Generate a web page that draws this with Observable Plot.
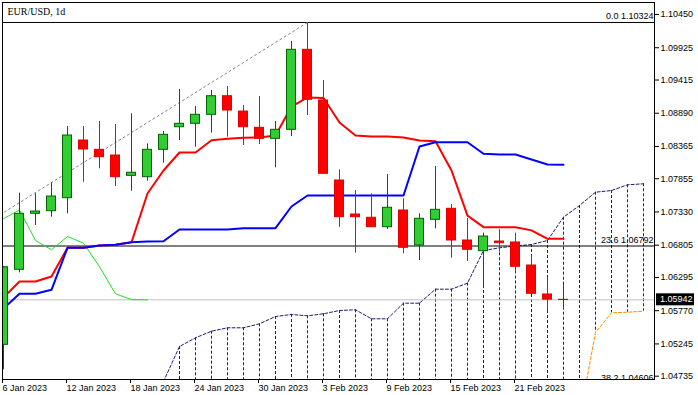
<!DOCTYPE html>
<html>
<head>
<meta charset="utf-8">
<script src="https://cdn.jsdelivr.net/npm/d3@7"></script>
<script src="https://cdn.jsdelivr.net/npm/@observablehq/plot@0.6"></script>
<style>
html, body { margin: 0; padding: 0; background: #fff; }
#chart svg { display: block; }
</style>
</head>
<body>
<div id="chart"></div>
<script>
// ---- data (daily EUR/USD bars, index 0 = 6 Jan 2023) ----
const title = "EUR/USD, 1d";
const open  = [1.05231,1.06416,1.07301,1.07342,1.07548,1.08459,1.08312,1.08222,1.07901,1.07879,1.08312,1.08669,1.08723,1.08865,1.09159,1.08917,1.08660,1.08486,1.08628,1.09892,1.09091,1.07827,1.07290,1.07238,1.07089,1.07353,1.06800,1.07206,1.07380,1.06879,1.06710,1.06863,1.06848,1.06484,1.06026,1.05940];
const high  = [1.06470,1.07627,1.07617,1.07791,1.08680,1.08680,1.08759,1.08712,1.08881,1.08407,1.08601,1.09265,1.08996,1.09249,1.09312,1.09012,1.09154,1.08759,1.10023,1.10324,1.09407,1.07996,1.07669,1.07617,1.07922,1.07538,1.07301,1.08048,1.07448,1.07227,1.06995,1.07048,1.06995,1.06642,1.06290,1.06184];
const low   = [1.04836,1.06369,1.07116,1.07247,1.07301,1.07800,1.08012,1.07732,1.07658,1.07816,1.08100,1.08459,1.08353,1.08575,1.08511,1.08380,1.08396,1.08028,1.08522,1.08854,1.07925,1.07089,1.06679,1.07085,1.07053,1.06669,1.06563,1.07064,1.06600,1.06547,1.06132,1.06694,1.06363,1.06030,1.05762,1.05784];
const close = [1.06457,1.07301,1.07337,1.07574,1.08538,1.08317,1.08195,1.07879,1.07949,1.08312,1.08549,1.08723,1.08865,1.09159,1.08933,1.08669,1.08486,1.08628,1.09892,1.09102,1.07933,1.07247,1.07247,1.07089,1.07396,1.06764,1.07222,1.07364,1.06879,1.06732,1.06942,1.06837,1.06464,1.06037,1.05945,1.05942];

// Ichimoku lines
const tenkan = [1.05979,1.06231,1.06231,1.06310,1.06764,1.06764,1.06800,1.06811,1.06852,1.07622,1.07985,1.08270,1.08270,1.08462,1.08485,1.08502,1.08507,1.08538,1.08996,1.09139,1.09130,1.08744,1.08538,1.08522,1.08522,1.08507,1.08459,1.08447,1.07985,1.07272,1.07090,1.07090,1.07090,1.07039,1.06905,1.06905];
const kijun  = [1.05805,1.06037,1.06037,1.06100,1.06764,1.06764,1.06800,1.06811,1.06852,1.06863,1.06868,1.07053,1.07053,1.07053,1.07053,1.07074,1.07074,1.07074,1.07416,1.07590,1.07590,1.07590,1.07590,1.07590,1.07590,1.07590,1.08364,1.08432,1.08432,1.08432,1.08249,1.08238,1.08238,1.08159,1.08080,1.08075];
const chikou = [1.07222,1.07364,1.06879,1.06732,1.06942,1.06837,1.06464,1.06037,1.05945,1.05942];
const spanAStart = 10;
const spanA  = [1.04651,1.05204,1.05342,1.05446,1.05500,1.05500,1.05563,1.05678,1.05710,1.05689,1.05721,1.05773,1.05784,1.05642,1.05642,1.05889,1.05889,1.06110,1.06110,1.06205,1.06721,1.06764,1.06792,1.06816,1.06879,1.07247,1.07432,1.07642,1.07669,1.07759,1.07775];
const spanBStart = 36;
const spanB  = [1.04067,1.05426,1.05737,1.05746,1.05762];

// Fibonacci retracement
const fibLevels = [1.10324, 1.06792, 1.04606];
const fibLabels = ["0.0 1.10324", "23.6 1.06792", "38.2 1.04606"];
const trendIdx   = [-1, 19];
const trendPrice = [1.07162, 1.10324];

const lastPrice = 1.05942;

// axes
const yTicks = [1.10450,1.09925,1.09415,1.08890,1.08365,1.07855,1.07330,1.06805,1.06295,1.05770,1.05245,1.04735];
const xTickIdx = [0,4,8,12,16,20,24,28,32];
const xTickLabels = ["6 Jan 2023","12 Jan 2023","18 Jan 2023","24 Jan 2023","30 Jan 2023","3 Feb 2023","9 Feb 2023","15 Feb 2023","21 Feb 2023"];

// ---- build ----
const W = 698, H = 395;
const xDomain = [-0.0625, 40.6875];
const yDomain = [1.046829, 1.106396];
const navy = "#1c1c72";

const bars = open.map((o, i) => ({i, o, h: high[i], l: low[i], c: close[i]}));
const upBars = bars.filter(d => d.c >= d.o);
const dnBars = bars.filter(d => d.c < d.o);
const series = (arr, start = 0) => arr.map((v, k) => ({i: k + start, v}));
const cloud = spanA.map((a, k) => {
  const i = k + spanAStart;
  const j = i - spanBStart;
  return {i, a, b: j >= 0 ? spanB[j] : null};
});
const trend = trendIdx.map((i, k) => ({i, p: trendPrice[k]}));
const fibData = fibLevels.map((p, k) => ({p, label: fibLabels[k]}));

const bodyHalf = 0.28;

const chart = Plot.plot({
  width: W, height: H,
  marginLeft: 2, marginRight: 44, marginTop: 2, marginBottom: 16,
  x: {type: "linear", domain: xDomain, axis: null},
  y: {type: "linear", domain: yDomain, axis: null},
  style: {fontFamily: "'Liberation Sans', Arial, sans-serif", fontSize: "9px", background: "#fff", color: "#000"},
  marks: [
    // Ichimoku cloud hatching and span lines
    Plot.ruleX(cloud, {x: "i", y1: "a", y2: d => d.b ?? yDomain[0], stroke: navy, strokeWidth: 1, strokeDasharray: "3,2", clip: true}),
    Plot.line(cloud, {x: "i", y: "a", stroke: navy, strokeWidth: 1, strokeDasharray: "3,2", clip: true}),
    Plot.line(cloud, {x: "i", y: "b", stroke: "#ff8c00", strokeWidth: 1, strokeDasharray: "3,2", clip: true}),
    // current price line
    Plot.ruleY([lastPrice], {stroke: "#c0c0c0", strokeWidth: 1}),
    // fib levels and trend line
    Plot.ruleY(fibData, {y: "p", stroke: "#000", strokeWidth: 1, clip: true}),
    Plot.line(trend, {x: "i", y: "p", stroke: "#7a8797", strokeWidth: 1, strokeDasharray: "2,3", clip: true}),
    // Ichimoku lines
    Plot.line(series(chikou), {x: "i", y: "v", stroke: "#22dd22", strokeWidth: 1, clip: true}),
    Plot.line(series(tenkan), {x: "i", y: "v", stroke: "#ff0000", strokeWidth: 2, clip: true}),
    Plot.line(series(kijun), {x: "i", y: "v", stroke: "#0000ff", strokeWidth: 2, clip: true}),
    // candles
    Plot.ruleX(upBars, {x: "i", y1: "l", y2: "h", stroke: "#006400", strokeWidth: 1, clip: true}),
    Plot.ruleX(dnBars, {x: "i", y1: "l", y2: "h", stroke: "#b22222", strokeWidth: 1, clip: true}),
    Plot.rect(upBars, {x1: d => d.i - bodyHalf, x2: d => d.i + bodyHalf, y1: "o", y2: "c", fill: "#32cd32", stroke: "#006400", strokeWidth: 1, clip: true}),
    Plot.rect(dnBars, {x1: d => d.i - bodyHalf, x2: d => d.i + bodyHalf, y1: "o", y2: "c", fill: "#ff0000", stroke: "#e00000", strokeWidth: 1, clip: true}),
    // fib labels
    Plot.text(fibData, {y: "p", text: "label", frameAnchor: "right", textAnchor: "end", lineAnchor: "bottom", dx: -1, dy: -3.5, fill: "#000", clip: true}),
    // title
    Plot.text([title], {frameAnchor: "top-left", textAnchor: "start", lineAnchor: "top", dx: 5, dy: 5, fontFamily: "'Liberation Serif', 'Times New Roman', serif", fontSize: 10, fill: "#000"}),
    Plot.frame({stroke: "#000"}),
    Plot.axisY(yTicks, {anchor: "right", tickSize: 4, tickPadding: 2, tickFormat: d => d.toFixed(5), label: null, fill: "#000", stroke: "#000"}),
    Plot.axisX(xTickIdx, {anchor: "bottom", tickSize: 4, tickPadding: 1, tickFormat: d => xTickLabels[xTickIdx.indexOf(d)], textAnchor: "start", dx: -1, label: null, fill: "#000", stroke: "#000"})
  ]
});

document.getElementById("chart").appendChild(chart);

// current price tag on the price axis
const svg = d3.select(chart);
const py = chart.scale("y").apply(lastPrice);
const tag = svg.append("g");
tag.append("rect").attr("x", W - 42).attr("y", py - 6).attr("width", 38).attr("height", 12).attr("fill", "#000");
tag.append("text").attr("x", W - 38).attr("y", py).attr("dy", "0.32em")
  .attr("text-anchor", "start")
  .attr("fill", "#fff").attr("font-size", 9)
  .attr("font-family", "'Liberation Sans', Arial, sans-serif")
  .text(lastPrice.toFixed(5));
</script>
</body>
</html>
